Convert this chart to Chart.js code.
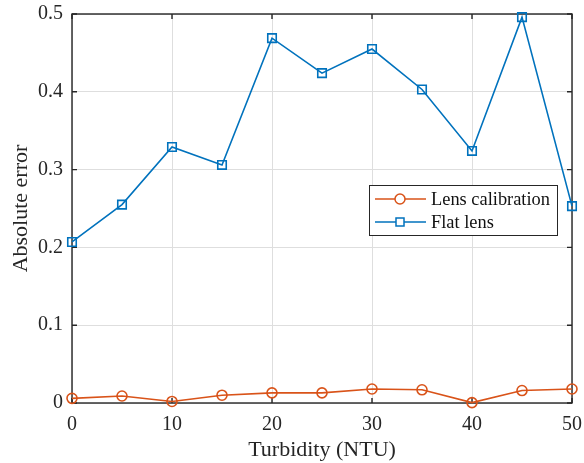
<!DOCTYPE html>
<html>
<head>
<meta charset="utf-8">
<script src="https://cdn.jsdelivr.net/npm/chart.js@4/dist/chart.umd.min.js"></script>
<style>
  html, body { margin: 0; padding: 0; background: #fff; }
  #wrap { width: 584px; height: 463px; }
</style>
</head>
<body>
<div id="wrap"><canvas id="c" width="584" height="463"></canvas></div>
<script>
// turbidity steps (NTU)
const turbidity = [0, 5, 10, 15, 20, 25, 30, 35, 40, 45, 50];
// absolute error
const lensCalibration = [0.006, 0.009, 0.002, 0.010, 0.013, 0.013, 0.018, 0.017, 0.0005, 0.016, 0.018];
const flatLens = [0.207, 0.255, 0.329, 0.306, 0.469, 0.424, 0.455, 0.403, 0.324, 0.496, 0.253];
const xTicks = [0, 10, 20, 30, 40, 50];
const yTicks = [0, 0.1, 0.2, 0.3, 0.4, 0.5];

const FONT = "'Liberation Serif', 'Times New Roman', serif";
const AXIS = "#262626";
const BLUE = "#0072BD";
const ORANGE = "#D95319";

function toPoints(values) {
  return turbidity.map((t, i) => ({ x: t, y: values[i] }));
}

// MATLAB style box with inward ticks, drawn under the data
const boxPlugin = {
  id: "box",
  beforeDatasetsDraw(chart) {
    const { ctx, chartArea: a, scales } = chart;
    ctx.save();
    ctx.strokeStyle = AXIS;
    ctx.lineWidth = 1.4;
    ctx.strokeRect(a.left, a.top, a.right - a.left, a.bottom - a.top);
    const len = 5;
    ctx.beginPath();
    xTicks.forEach((v) => {
      const px = scales.x.getPixelForValue(v);
      ctx.moveTo(px, a.bottom); ctx.lineTo(px, a.bottom - len);
      ctx.moveTo(px, a.top); ctx.lineTo(px, a.top + len);
    });
    yTicks.forEach((v) => {
      const py = scales.y.getPixelForValue(v);
      ctx.moveTo(a.left, py); ctx.lineTo(a.left + len, py);
      ctx.moveTo(a.right, py); ctx.lineTo(a.right - len, py);
    });
    ctx.stroke();
    ctx.restore();
  }
};

// legend box inside the plot, right side
const legendPlugin = {
  id: "innerLegend",
  afterDraw(chart) {
    const ctx = chart.ctx;
    const x0 = 369, y0 = 185, w = 188, h = 50;
    ctx.save();
    ctx.fillStyle = "#fff";
    ctx.fillRect(x0, y0, w, h);
    ctx.strokeStyle = AXIS;
    ctx.lineWidth = 1;
    ctx.strokeRect(x0 + 0.5, y0 + 0.5, w, h);
    const rows = [199, 222];
    chart.data.datasets.forEach((ds, i) => {
      const y = rows[i];
      ctx.strokeStyle = ds.borderColor;
      ctx.lineWidth = 1.5;
      ctx.beginPath();
      ctx.moveTo(375, y); ctx.lineTo(426, y);
      ctx.stroke();
      if (ds.pointStyle === "circle") {
        ctx.beginPath();
        ctx.arc(400, y, 5, 0, Math.PI * 2);
        ctx.fillStyle = "#fff";
        ctx.fill();
        ctx.stroke();
      } else {
        ctx.fillStyle = "#fff";
        ctx.fillRect(396, y - 4, 8, 8);
        ctx.strokeRect(396, y - 4, 8, 8);
      }
      ctx.fillStyle = "#111";
      ctx.font = "18.4px " + FONT;
      ctx.textBaseline = "middle";
      ctx.fillText(ds.label, 431, y + 1);
    });
    ctx.restore();
  }
};

new Chart(document.getElementById("c"), {
  type: "line",
  data: {
    datasets: [
      {
        label: "Lens calibration",
        data: toPoints(lensCalibration),
        borderColor: ORANGE,
        backgroundColor: "rgba(255,255,255,0)",
        borderWidth: 1.6,
        pointStyle: "circle",
        pointRadius: 5,
        pointBorderWidth: 1.6,
        pointBackgroundColor: "rgba(255,255,255,0)",
        clip: false
      },
      {
        label: "Flat lens",
        data: toPoints(flatLens),
        borderColor: BLUE,
        backgroundColor: "rgba(255,255,255,0)",
        borderWidth: 1.6,
        pointStyle: "rect",
        pointRadius: 6,
        pointBorderWidth: 1.6,
        pointBackgroundColor: "rgba(255,255,255,0)",
        clip: false
      }
    ]
  },
  options: {
    responsive: false,
    animation: false,
    layout: { autoPadding: false, padding: { top: 14, right: 12, left: 0, bottom: 0 } },
    plugins: {
      legend: { display: false },
      tooltip: { enabled: false }
    },
    scales: {
      x: {
        type: "linear",
        min: 0,
        max: 50,
        afterBuildTicks: (s) => { s.ticks = xTicks.map((v) => ({ value: v })); },
        afterFit: (s) => {
          s.height = 60;
          s.paddingLeft = 0; s.paddingRight = 0; s.paddingTop = 0; s.paddingBottom = 0;
        },
        grid: { color: "#dedede", lineWidth: 1, drawTicks: false },
        border: { display: false },
        ticks: { color: "#262626", font: { family: FONT, size: 20 }, padding: 10, maxRotation: 0 },
        title: {
          display: true,
          text: "Turbidity (NTU)",
          color: "#262626",
          font: { family: FONT, size: 22 },
          padding: { top: 0, bottom: 0 }
        }
      },
      y: {
        min: 0,
        max: 0.5,
        afterBuildTicks: (s) => { s.ticks = yTicks.map((v) => ({ value: v })); },
        afterFit: (s) => {
          s.width = 72;
          s.paddingLeft = 0; s.paddingRight = 0; s.paddingTop = 0; s.paddingBottom = 0;
        },
        grid: { color: "#dedede", lineWidth: 1, drawTicks: false },
        border: { display: false },
        ticks: {
          color: "#262626",
          font: { family: FONT, size: 20 },
          padding: 9,
          callback: (v) => String(Math.round(v * 10) / 10)
        },
        title: {
          display: true,
          text: "Absolute error",
          color: "#262626",
          font: { family: FONT, size: 22 },
          padding: { top: 8, bottom: 0 }
        }
      }
    }
  },
  plugins: [boxPlugin, legendPlugin]
});
</script>
</body>
</html>
